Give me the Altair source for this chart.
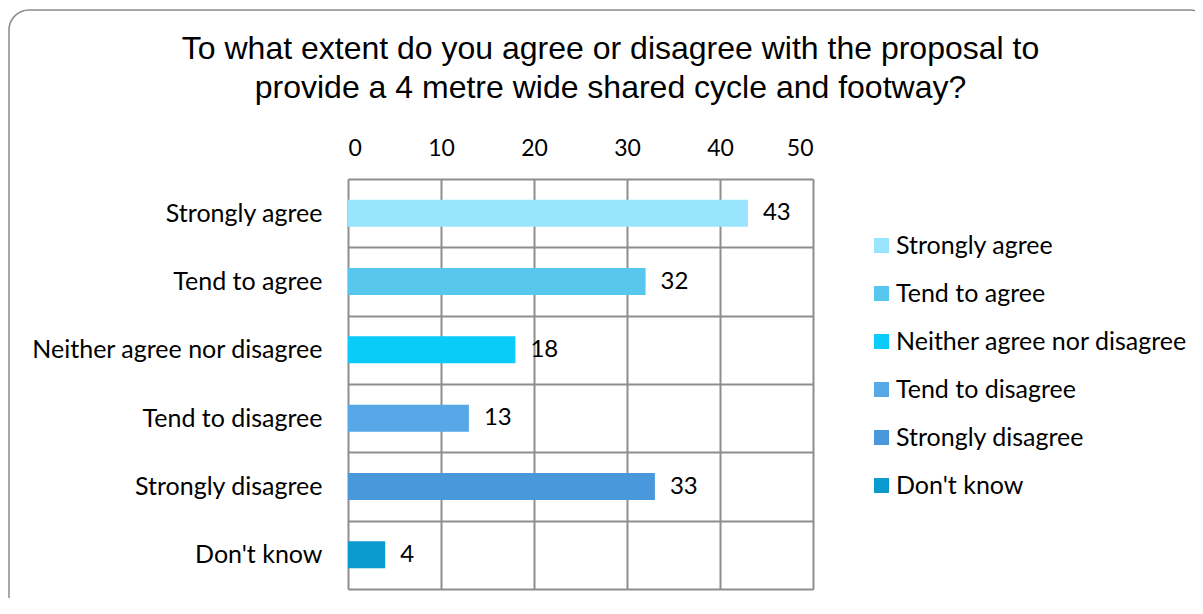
import altair as alt
import pandas as pd

categories = ["Strongly agree", "Tend to agree", "Neither agree nor disagree",
              "Tend to disagree", "Strongly disagree", "Don't know"]
values = [43, 32, 18, 13, 33, 4]
colors = ["#99E5FD", "#57C7EE", "#0BCBFB", "#56A8E6", "#4A98DC", "#0B9ACF"]
x_ticks = [0, 10, 20, 30, 40, 50]
title_lines = ["To what extent do you agree or disagree with the proposal to",
               "provide a 4 metre wide shared cycle and footway?"]

df = pd.DataFrame({"category": categories, "value": values})

GRID = "#8e8e8e"
FONT = "Lato"

y_enc = alt.Y("category:N", sort=categories, title=None,
              scale=alt.Scale(paddingInner=0, paddingOuter=0),
              axis=alt.Axis(orient="left", grid=True, gridColor=GRID, gridWidth=2,
                            ticks=False, domain=False, tickBand="extent",
                            labelFont=FONT, labelFontSize=25, labelColor="#000000",
                            labelPadding=26, labelLimit=400))
x_enc = alt.X("value:Q", title=None,
              scale=alt.Scale(domain=[0, 50], nice=False),
              axis=alt.Axis(orient="top", values=x_ticks, grid=True, gridColor=GRID,
                            gridWidth=2, ticks=False, domain=False,
                            labelFont=FONT, labelFontSize=23, labelColor="#000000",
                            labelPadding=19))

bars = alt.Chart(df).mark_bar(size=27).encode(
    y=y_enc,
    x=x_enc,
    color=alt.Color("category:N", sort=categories,
                    scale=alt.Scale(domain=categories, range=colors),
                    legend=alt.Legend(title=None, orient="none", legendX=521, legendY=54,
                                      symbolType="square", symbolSize=225,
                                      symbolStrokeWidth=0, labelFont=FONT,
                                      labelFontSize=25, labelColor="#000000",
                                      labelOffset=2, rowPadding=22, labelLimit=400)),
)

labels = alt.Chart(df).mark_text(align="left", baseline="middle", dx=15,
                                 font=FONT, fontSize=24, color="#000000").encode(
    y=alt.Y("category:N", sort=categories),
    x=alt.X("value:Q"),
    text=alt.Text("value:Q"),
)

border = alt.Chart(pd.DataFrame({"k": [0]})).mark_rect(
    cornerRadius=20, fillOpacity=0, stroke="#8a8a8a", strokeWidth=1.5
).encode(x=alt.value(-339), x2=alt.value(862), y=alt.value(-169), y2=alt.value(441))

title = alt.Chart(pd.DataFrame({"k": [0]})).mark_text(
    font="Liberation Sans", fontSize=32, color="#000000", align="center",
    baseline="alphabetic", lineHeight=39
).encode(x=alt.value(262.5), y=alt.value(-120), text=alt.value(title_lines))

chart = alt.layer(border, title, bars, labels).properties(
    width=465, height=410,
    autosize=alt.AutoSizeParams(type="none"),
    padding={"left": 340, "top": 171, "right": 382, "bottom": 9},
).configure_view(stroke=GRID, strokeWidth=2).configure(background="white")

chart.save("out.html", embed_options={"renderer": "svg", "actions": False})
